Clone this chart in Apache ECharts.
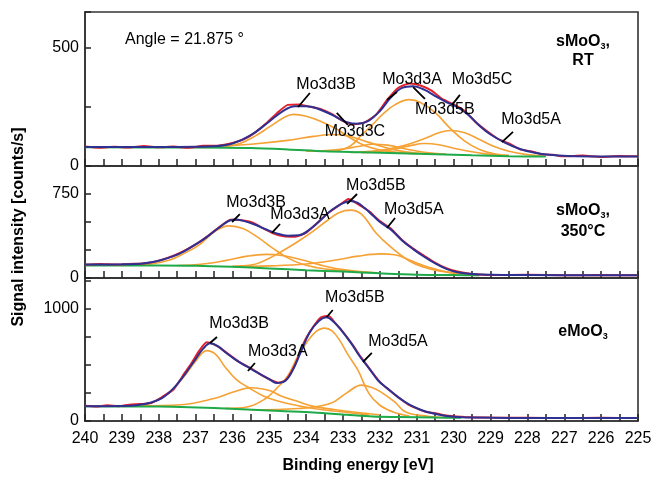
<!DOCTYPE html>
<html>
<head>
<meta charset="utf-8">
<script src="https://cdn.jsdelivr.net/npm/echarts@6/dist/echarts.min.js"></script>
<style>
  html, body { margin: 0; padding: 0; background: #fff; }
  #chart { width: 655px; height: 484px; }
</style>
</head>
<body>
<div id="chart"></div>
<script>
// ---- data: [binding energy eV, counts/s] ----
// panel 1: sMoO3, RT
const bgTop = [[240,79],[237,78],[235.5,76],[234.5,70],[233.5,62],[232.5,58],[231.5,54],[230.5,50],[229.5,45],[228.5,41],[227.5,40]];
const fitTop = [[240,80],[238,80],[237,81],[236.5,83],[236,95],[235.5,130],[235,188],[234.6,235],[234.3,252],[234,252],[233.7,243],[233.3,216],[232.9,185],[232.6,178],[232.3,192],[232,232],[231.7,290],[231.4,330],[231.1,337],[230.8,322],[230.5,295],[230.2,270],[229.9,248],[229.6,215],[229.3,170],[229,133],[228.6,98],[228.2,72],[227.8,56],[227.4,47],[226.9,42],[226,40],[225,40]];
const rawTop = [[240,82],[239.6,77],[239.2,81],[238.8,78],[238.4,84],[238,79],[237.6,82],[237.2,77],[236.8,85],[236.4,86],[236,97],[235.7,112],[235.4,140],[235.1,178],[234.8,222],[234.5,258],[234.2,260],[233.9,250],[233.6,240],[233.3,219],[233,190],[232.7,176],[232.4,185],[232.1,218],[231.8,280],[231.5,330],[231.2,348],[230.9,340],[230.6,318],[230.3,282],[230,260],[229.7,232],[229.4,185],[229.1,148],[228.8,115],[228.5,95],[228.2,70],[227.9,62],[227.6,50],[227.3,47],[227,41],[226.5,44],[226,38],[225.5,42],[225,41]];
const compTop = [
  [[237,78],[236.2,82],[235.8,95],[235.4,125],[235,165],[234.6,205],[234.35,218],[234,210],[233.6,188],[233.2,158],[232.8,118],[232.4,85],[232,68],[231.5,57],[231,52]],
  [[237.5,78],[236.5,82],[235.5,92],[234.5,108],[233.8,125],[233.3,133],[232.9,128],[232.5,110],[232,85],[231.5,65],[231,55],[230.5,50]],
  [[234,62],[233.2,68],[232.6,82],[232.2,92],[231.8,88],[231.3,72],[230.8,58],[230.2,50]],
  [[233.2,62],[232.8,85],[232.5,130],[232.2,175],[231.9,222],[231.6,258],[231.2,280],[230.9,268],[230.5,225],[230.1,160],[229.7,105],[229.3,70],[228.9,52],[228.5,45]],
  [[232.5,56],[231.8,66],[231.2,85],[230.8,95],[230.4,90],[229.9,72],[229.3,55],[228.7,45]],
  [[232.8,57],[232,66],[231.4,84],[230.8,115],[230.4,140],[230.1,150],[229.7,140],[229.3,112],[228.9,82],[228.5,62],[228.1,50],[227.6,42]]
];
const noteTopText = ['Mo3d3B', 'Mo3d3C', 'Mo3d3A', 'Mo3d5B', 'Mo3d5C', 'Mo3d5A'];
// [text E, text value, leader E1, leader v1, leader E2, leader v2]
const noteTopPos = [
  [233.46,342, 234.22,249, 233.9,308],
  [232.68,144, 233.17,224, 232.87,173],
  [231.13,363, 231.81,279, 231.54,312],
  [230.24,236, 231.1,333, 230.78,283],
  [229.23,363, 230.05,257, 229.83,300],
  [227.9,194, 228.69,101, 228.39,144]
];

// panel 2: sMoO3, 350°C
const bgMid = [[240,112],[238,112],[237,110],[236,100],[235,85],[234,70],[233,57],[232,42],[231,30],[230,26],[229.3,25]];
const fitMid = [[240,121],[239,122],[238.5,128],[238.2,140],[237.9,163],[237.6,195],[237.3,240],[237,300],[236.7,365],[236.4,442],[236.15,500],[235.95,522],[235.7,510],[235.4,478],[235.1,435],[234.8,398],[234.5,378],[234.2,382],[233.9,435],[233.6,520],[233.3,610],[233,668],[232.8,688],[232.6,670],[232.4,620],[232.2,560],[232,500],[231.7,432],[231.4,335],[231.1,258],[230.8,190],[230.5,130],[230.2,82],[229.9,52],[229.5,35],[229,28],[228,26],[225,25]];
const rawMid = [[240,118],[239.6,124],[239.2,120],[238.8,126],[238.4,130],[238.1,146],[237.8,175],[237.5,212],[237.2,262],[236.9,320],[236.6,392],[236.3,468],[236.05,520],[235.8,518],[235.5,500],[235.2,450],[234.9,400],[234.6,372],[234.3,368],[234,405],[233.7,492],[233.4,582],[233.1,650],[232.85,705],[232.6,660],[232.3,598],[232,508],[231.7,440],[231.4,340],[231.1,262],[230.8,198],[230.5,136],[230.2,88],[229.9,58],[229.6,40],[229.3,32],[229,27],[228,28],[227,24],[226,26],[225,25]];
const compMid = [
  [[238.8,115],[238.2,125],[237.7,160],[237.3,222],[236.9,295],[236.5,410],[236.1,465],[235.7,440],[235.3,360],[234.9,265],[234.5,180],[234.1,122],[233.7,92],[233.2,70],[232.7,58]],
  [[237.5,112],[236.8,125],[236.2,155],[235.6,195],[235.1,211],[234.6,198],[234.1,160],[233.6,115],[233.1,80],[232.6,60],[232,45]],
  [[236,105],[235.5,115],[235.1,160],[234.6,250],[234.2,330],[233.8,420],[233.4,520],[233.1,585],[232.8,606],[232.5,570],[232.1,400],[231.7,275],[231.2,152],[230.8,95],[230.4,62],[230,45],[229.5,30]],
  [[236,102],[235,108],[234,125],[233.2,160],[232.6,195],[232,215],[231.6,208],[231.2,160],[230.8,110],[230.3,62],[229.9,40],[229.4,28]]
];
const noteMidText = ['Mo3d3B', 'Mo3d3A', 'Mo3d5B', 'Mo3d5A'];
const noteMidPos = [
  [235.36,670, 236.01,500, 235.8,571],
  [234.17,562, 234.93,402, 234.71,482],
  [232.11,821, 232.89,661, 232.62,750],
  [231.08,607, 231.81,446, 231.59,536]
];

// panel 3: eMoO3
const bgBot = [[240,131],[238,128],[237.4,125],[236.5,115],[235.6,102],[234.7,88],[233.8,75],[232.9,55],[232.2,40],[231.5,35],[230.5,30],[229.8,28]];
const fitBot = [[240,131],[239,133],[238.6,140],[238.2,165],[237.9,205],[237.6,290],[237.3,410],[237,550],[236.8,640],[236.6,690],[236.4,665],[236.15,600],[235.9,540],[235.6,482],[235.3,425],[235,372],[234.8,338],[234.6,350],[234.4,430],[234.15,610],[233.9,790],[233.65,890],[233.45,922],[233.25,880],[233.05,808],[232.8,700],[232.55,575],[232.3,470],[232.05,360],[231.8,290],[231.5,210],[231.2,145],[230.9,100],[230.55,66],[230.2,45],[229.9,36],[229.4,30],[228.5,27],[225,27]];
const rawBot = [[240,135],[239.7,128],[239.4,140],[239.1,132],[238.8,145],[238.5,150],[238.2,160],[237.9,215],[237.6,280],[237.3,425],[237.1,520],[236.9,625],[236.7,700],[236.5,680],[236.3,640],[236.05,580],[235.8,520],[235.5,468],[235.2,405],[234.95,362],[234.75,340],[234.55,365],[234.3,500],[234.05,705],[233.8,840],[233.6,920],[233.4,935],[233.2,865],[233,790],[232.75,680],[232.5,560],[232.25,450],[232,345],[231.75,275],[231.5,210],[231.25,150],[231,112],[230.75,80],[230.5,70],[230.25,52],[230,42],[229.7,36],[229.4,32],[229,30],[228,28],[227,27],[226,28],[225,27]];
const compBot = [
  [[239,130],[238.5,140],[238.1,175],[237.7,260],[237.3,400],[237,530],[236.7,625],[236.45,590],[236.2,480],[235.9,370],[235.6,304],[235.1,214],[234.5,155],[233.8,111],[233,80],[232.3,55]],
  [[238.5,135],[237.4,145],[236.5,200],[236,255],[235.5,295],[235,270],[234.7,225],[234.2,170],[233.8,130],[233.2,100],[232.6,75],[232,55]],
  [[236.2,112],[235.6,125],[235.1,200],[234.8,290],[234.5,400],[234.25,560],[234,691],[233.75,790],[233.5,825],[233.3,800],[233.1,720],[232.85,580],[232.6,453],[232.3,245],[232,140],[231.6,75],[231.2,45]],
  [[235.5,100],[234.2,111],[233.35,155],[232.9,250],[232.5,319],[232.2,295],[231.98,259],[231.6,170],[231.3,80],[230.7,42],[230.2,32]]
];
const noteBotText = ['Mo3d3B', 'Mo3d3A', 'Mo3d5B', 'Mo3d5A'];
const noteBotPos = [
  [235.82,861, 236.61,693, 236.42,746],
  [234.77,613, 235.58,444, 235.39,515],
  [232.68,1092, 233.44,924, 233.28,986],
  [231.51,702, 232.46,524, 232.22,604]
];

const yMax = [650, 1000, 1270];
const yLabelled = [500, 750, 1000];

const font = '"Liberation Sans", Arial, Helvetica, sans-serif';
const lineDark = '#333';

const panels = [
  { bg: bgTop, fit: fitTop, raw: rawTop, comps: compTop, noteText: noteTopText, notePos: noteTopPos },
  { bg: bgMid, fit: fitMid, raw: rawMid, comps: compMid, noteText: noteMidText, notePos: noteMidPos },
  { bg: bgBot, fit: fitBot, raw: rawBot, comps: compBot, noteText: noteBotText, notePos: noteBotPos }
];
const gridBox = [
  { top: 12, height: 154 },
  { top: 166, height: 112 },
  { top: 278, height: 143 }
];

const series = [];
panels.forEach((p, i) => {
  const base = { type: 'line', xAxisIndex: i, yAxisIndex: i, showSymbol: false, silent: true, animation: false };
  p.comps.forEach(c => {
    series.push({ ...base, data: c, smooth: 0.4, lineStyle: { color: '#f6a133', width: 1.6 }, z: 2 });
  });
  series.push({ ...base, data: p.bg, smooth: 0.3, lineStyle: { color: '#1faa4a', width: 2 }, z: 3 });
  series.push({ ...base, data: p.raw, smooth: 0.2, lineStyle: { color: '#e4202a', width: 2 }, z: 4 });
  series.push({ ...base, data: p.fit, smooth: 0.4, lineStyle: { color: '#2e3192', width: 2 }, z: 5 });
  // labels with leader lines
  series.push({
    type: 'custom', xAxisIndex: i, yAxisIndex: i, silent: true, animation: false, clip: false, z: 10,
    data: p.notePos,
    encode: { x: [0, 2, 4], y: [1, 3, 5] },
    renderItem(params, api) {
      const t = api.coord([api.value(0), api.value(1)]);
      const a = api.coord([api.value(2), api.value(3)]);
      const b = api.coord([api.value(4), api.value(5)]);
      return {
        type: 'group',
        children: [
          { type: 'line', shape: { x1: a[0], y1: a[1], x2: b[0], y2: b[1] }, style: { stroke: '#000', lineWidth: 1.8 } },
          { type: 'text', style: { text: p.noteText[params.dataIndex], x: t[0], y: t[1], align: 'center', verticalAlign: 'middle', font: '16px ' + font, fill: '#000' } }
        ]
      };
    }
  });
});

const chart = echarts.init(document.getElementById('chart'), null, { renderer: 'canvas' });
chart.setOption({
  animation: false,
  backgroundColor: '#fff',
  grid: gridBox.map(g => ({
    left: 85, right: 17, top: g.top, height: g.height,
    show: true, borderColor: lineDark, borderWidth: 1.6,
    outerBoundsMode: 'none'
  })),
  xAxis: [0, 1, 2].map(i => ({
    type: 'value', gridIndex: i, min: 225, max: 240, interval: 0.5, inverse: true,
    axisLine: { show: true, onZero: false, lineStyle: { color: lineDark, width: 1.6 } },
    axisTick: { show: true, inside: true, length: 7, lineStyle: { color: '#222', width: 1.5 } },
    axisLabel: {
      show: i === 2, margin: 10, fontSize: 16, color: '#000', fontFamily: font,
      formatter: v => (Math.abs(v - Math.round(v)) < 1e-6 ? String(Math.round(v)) : '')
    },
    splitLine: { show: false }
  })),
  yAxis: [0, 1, 2].map(i => ({
    type: 'value', gridIndex: i, min: 0, max: yMax[i], interval: 250,
    axisLine: { show: true, onZero: false, lineStyle: { color: lineDark, width: 1.6 } },
    axisTick: { show: true, inside: true, length: 6, lineStyle: { color: '#222', width: 1.5 } },
    axisLabel: {
      margin: 6, fontSize: 16, color: '#000', fontFamily: font,
      formatter: v => (v === 0 || v === yLabelled[i] ? String(v) : '')
    },
    splitLine: { show: false }
  })),
  graphic: [
    { type: 'text', x: 125, y: 40, style: { text: 'Angle = 21.875 °', font: '16px ' + font, fill: '#000', verticalAlign: 'middle' } },
    {
      type: 'text', x: 583, y: 42,
      style: {
        text: '{a|sMoO}{s|3}{a|,}', align: 'center', verticalAlign: 'middle',
        rich: { a: { fontSize: 16, fontWeight: 'bold', fontFamily: font, lineHeight: 18 }, s: { fontSize: 9, fontWeight: 'bold', fontFamily: font, lineHeight: 18, verticalAlign: 'bottom' } }
      }
    },
    { type: 'text', x: 583, y: 61, style: { text: 'RT', font: 'bold 16px ' + font, fill: '#000', align: 'center', verticalAlign: 'middle' } },
    {
      type: 'text', x: 583, y: 211,
      style: {
        text: '{a|sMoO}{s|3}{a|,}', align: 'center', verticalAlign: 'middle',
        rich: { a: { fontSize: 16, fontWeight: 'bold', fontFamily: font, lineHeight: 18 }, s: { fontSize: 9, fontWeight: 'bold', fontFamily: font, lineHeight: 18, verticalAlign: 'bottom' } }
      }
    },
    { type: 'text', x: 583, y: 232, style: { text: '350°C', font: 'bold 16px ' + font, fill: '#000', align: 'center', verticalAlign: 'middle' } },
    {
      type: 'text', x: 583, y: 332,
      style: {
        text: '{a|eMoO}{s|3}', align: 'center', verticalAlign: 'middle',
        rich: { a: { fontSize: 16, fontWeight: 'bold', fontFamily: font, lineHeight: 18 }, s: { fontSize: 9, fontWeight: 'bold', fontFamily: font, lineHeight: 18, verticalAlign: 'bottom' } }
      }
    },
    { type: 'text', x: 19, y: 227, rotation: Math.PI / 2, style: { text: 'Signal intensity [counts/s]', font: 'bold 16px ' + font, fill: '#000', align: 'center', verticalAlign: 'middle' } },
    { type: 'text', x: 358, y: 466, style: { text: 'Binding energy [eV]', font: 'bold 16px ' + font, fill: '#000', align: 'center', verticalAlign: 'middle' } }
  ],
  series: series
});
</script>
</body>
</html>
